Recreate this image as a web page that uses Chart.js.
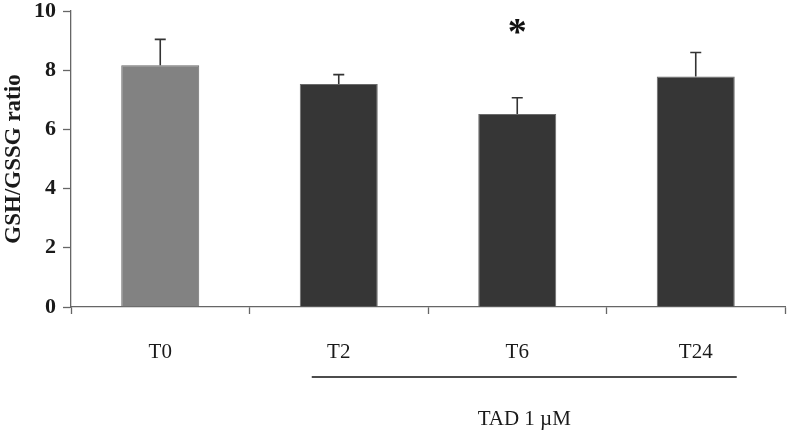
<!DOCTYPE html>
<html>
<head>
<meta charset="utf-8">
<script src="https://cdn.jsdelivr.net/npm/chart.js@4.4.1/dist/chart.umd.min.js"></script>
<style>
  html, body { margin: 0; padding: 0; background: #ffffff; }
  #wrap { width: 788px; height: 431px; position: relative; }
</style>
</head>
<body>
<div id="wrap"><canvas id="c" width="788" height="431"></canvas></div>
<script>
// ---- data ----
const categories = ['T0', 'T2', 'T6', 'T24'];
const ratioValues = [8.17, 7.53, 6.52, 7.79];
const ratioErrors = [0.87, 0.32, 0.55, 0.81];
const significance = ['', '', '*', ''];
const significanceLevel = 9.35;
const yTicks = [0, 2, 4, 6, 8, 10];
const yAxisTitle = 'GSH/GSSG ratio';
const groupLabel = 'TAD 1 \u00B5M';
const groupFrom = 1, groupTo = 3;

const barColors = ['#828282', '#363636', '#363636', '#363636'];

const annotations = {
  id: 'annotations',
  afterDatasetsDraw(chart) {
    const ctx = chart.ctx;
    const x = chart.scales.x, y = chart.scales.y;
    const meta = chart.getDatasetMeta(0);
    ctx.save();
    // error bars (upper only)
    ctx.strokeStyle = '#333333';
    ctx.lineWidth = 1.6;
    meta.data.forEach((bar, i) => {
      const cx = bar.x;
      const yTop = y.getPixelForValue(ratioValues[i]);
      const yErr = y.getPixelForValue(ratioValues[i] + ratioErrors[i]);
      ctx.beginPath();
      ctx.moveTo(cx, yTop);
      ctx.lineTo(cx, yErr);
      ctx.moveTo(cx - 5.5, yErr);
      ctx.lineTo(cx + 5.5, yErr);
      ctx.stroke();
    });
    // significance marks
    ctx.fillStyle = '#111111';
    ctx.font = 'bold 38px "Liberation Serif", serif';
    ctx.textAlign = 'center';
    ctx.textBaseline = 'middle';
    significance.forEach((s, i) => {
      if (!s) return;
      ctx.fillText(s, x.getPixelForValue(i), y.getPixelForValue(significanceLevel) + 4);
    });
    // group bracket + label
    const x1 = x.getPixelForValue(groupFrom) - 27;
    const x2 = x.getPixelForValue(groupTo) + 41;
    const lineY = y.getPixelForValue(0) + 70;
    ctx.strokeStyle = '#111111';
    ctx.lineWidth = 1.6;
    ctx.beginPath();
    ctx.moveTo(x1, lineY);
    ctx.lineTo(x2, lineY);
    ctx.stroke();
    ctx.font = '21px "Liberation Serif", serif';
    ctx.fillStyle = '#1a1a1a';
    ctx.fillText(groupLabel, (x1 + x2) / 2, lineY + 42);
    ctx.restore();
  }
};

new Chart(document.getElementById('c'), {
  type: 'bar',
  data: {
    labels: categories,
    datasets: [{
      data: ratioValues,
      backgroundColor: barColors,
      borderColor: '#6a6a6a',
      borderWidth: 1,
      categoryPercentage: 1.0,
      barPercentage: 0.437
    }]
  },
  options: {
    responsive: false,
    animation: false,
    layout: { padding: { top: 11, right: 3, left: 0, bottom: 0 } },
    plugins: { legend: { display: false }, tooltip: { enabled: false } },
    scales: {
      x: {
        grid: {
          offset: true,
          drawOnChartArea: false,
          drawTicks: true,
          tickLength: 7,
          tickWidth: 1.3,
          tickColor: '#666666'
        },
        border: { display: true, color: '#666666', width: 1.3 },
        ticks: {
          color: '#1a1a1a',
          padding: 26,
          font: { family: '"Liberation Serif", serif', size: 21 }
        },
        afterFit(s) { s.height = 124; s.paddingLeft = 0; s.paddingRight = 0; }
      },
      y: {
        min: 0,
        max: 10,
        afterBuildTicks(s) { s.ticks = yTicks.map(v => ({ value: v })); },
        grid: {
          drawOnChartArea: false,
          drawTicks: true,
          tickLength: 8,
          tickWidth: 1.3,
          tickColor: '#666666'
        },
        border: { display: true, color: '#666666', width: 1.3 },
        ticks: {
          color: '#1a1a1a',
          padding: 7,
          font: { family: '"Liberation Serif", serif', size: 22, weight: 'bold' }
        },
        title: {
          display: true,
          text: yAxisTitle,
          color: '#1a1a1a',
          padding: { top: 0, bottom: 4 },
          font: { family: '"Liberation Serif", serif', size: 23, weight: 'bold' }
        },
        afterFit(s) { s.width = 71; s.paddingTop = 0; s.paddingBottom = 0; }
      }
    }
  },
  plugins: [annotations]
});
</script>
</body>
</html>
